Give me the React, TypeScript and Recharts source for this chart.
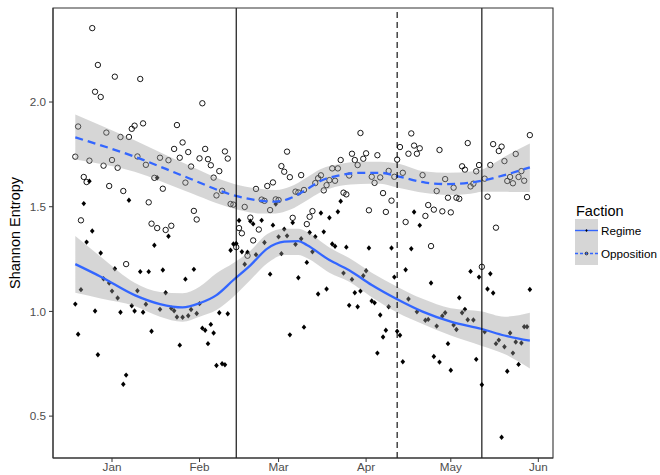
import React from 'react';
import { ComposedChart, Scatter, Line, Area, XAxis, YAxis, ReferenceLine, ReferenceArea } from 'recharts';

const FONT = '"Liberation Sans", Arial, Helvetica, sans-serif';

const monthTicks = [0, 31, 59, 90, 120, 151];
const monthLabels = ['Jan', 'Feb', 'Mar', 'Apr', 'May', 'Jun'];
const entropyTicks = [0.5, 1.0, 1.5, 2.0];
const solidEventDays = [44, 131];
const dashedEventDays = [101];

const oppositionDays = [
  -13, -12, -11, -10, -9, -8, -7, -6, -5, -4, -3, -2, -1, 0, 1, 2, 3, 4, 5, 6, 7, 8, 9, 10, 11, 12, 13, 14, 15, 16,
  17, 18, 19, 20, 21, 22, 23, 24, 25, 26, 27, 28, 29, 30, 31, 32, 33, 34, 35, 36, 37, 38, 39, 40, 41, 42, 43, 44,
  45, 46, 47, 48, 49, 50, 51, 52, 53, 54, 55, 56, 57, 58, 59, 60, 61, 62, 63, 64, 65, 66, 67, 68, 69, 70, 71, 72,
  73, 74, 75, 76, 77, 78, 79, 80, 81, 82, 83, 84, 85, 86, 87, 88, 89, 90, 91, 92, 93, 94, 95, 96, 97, 98, 99, 100,
  101, 102, 103, 104, 105, 106, 107, 108, 109, 110, 111, 112, 113, 114, 115, 116, 117, 118, 119, 120, 121, 122,
  123, 124, 125, 126, 127, 128, 129, 130, 131, 132, 133, 134, 135, 136, 137, 138, 139, 140, 141, 142, 143, 144,
  145, 146, 147, 148,
];
const oppositionEntropy = [
  1.739, 1.883, 1.435, 1.642, 1.618, 1.72, 2.353, 2.049, 2.177, 2.024, 1.696, 1.854, 1.599, 1.723, 2.121, 1.686,
  1.833, 1.575, 1.226, 1.833, 1.872, 1.887, 1.74, 2.11, 1.898, 1.7, 1.521, 1.419, 1.638, 1.398, 1.734, 1.586, 1.389,
  1.722, 1.409, 1.776, 1.89, 1.734, 1.807, 1.615, 1.761, 1.692, 1.48, 1.439, 1.731, 1.994, 1.776, 1.727, 1.698,
  1.639, 1.554, 1.67, 1.576, 1.764, 1.73, 1.513, 1.51, 1.307, 1.398, 1.373, 1.499, 1.266, 1.448, 1.339, 1.585,
  1.391, 1.534, 1.528, 1.599, 1.484, 1.616, 1.535, 1.532, 1.694, 1.667, 1.763, 1.641, 1.447, 1.572, 1.568, 1.651,
  1.58, 1.417, 1.452, 1.479, 1.613, 1.636, 1.65, 1.578, 1.603, 1.627, 1.683, 1.624, 1.683, 1.723, 1.567, 1.559,
  1.649, 1.753, 1.723, 1.699, 1.852, 1.729, 1.755, 1.483, 1.643, 1.614, 1.746, 1.64, 1.565, 1.475, 1.671, 1.529,
  1.643, 1.725, 1.785, 1.662, 1.427, 1.753, 1.85, 1.792, 1.753, 1.779, 1.651, 1.456, 1.508, 1.312, 1.486, 1.575,
  1.771, 1.478, 1.632, 1.543, 1.473, 1.591, 1.543, 1.538, 1.693, 1.677, 1.804, 1.597, 1.61, 1.669, 1.699, 1.213,
  1.634, 1.548, 1.699, 1.799, 1.4, 1.766, 1.787, 1.718, 1.623, 1.642, 1.612, 1.752, 1.642, 1.67, 1.624, 1.546, 1.842,
];

const regimeDays = [
  -13, -12, -11, -10, -9, -8, -7, -6, -5, -4, -3, -1, 0, 1, 2, 3, 4, 5, 6, 7, 8, 9, 10, 11, 12, 13, 14, 15, 16, 17,
  18, 19, 20, 21, 22, 23, 24, 25, 26, 27, 28, 29, 30, 31, 32, 33, 34, 35, 36, 37, 38, 39, 40, 41, 42, 43, 44, 45,
  46, 47, 48, 49, 50, 51, 53, 54, 56, 57, 58, 59, 60, 61, 62, 63, 64, 65, 66, 67, 68, 69, 70, 71, 72, 73, 74, 75,
  76, 77, 78, 79, 80, 81, 82, 83, 84, 85, 86, 87, 88, 89, 90, 91, 92, 93, 94, 95, 96, 97, 98, 99, 100, 101, 102,
  103, 104, 105, 106, 107, 108, 109, 111, 112, 113, 114, 115, 116, 117, 118, 119, 120, 121, 122, 123, 124, 125,
  126, 127, 128, 129, 130, 131, 132, 133, 134, 135, 136, 137, 138, 139, 140, 141, 142, 143, 144, 145, 146, 147, 148,
];
const regimeEntropy = [
  1.035, 0.891, 1.104, 1.515, 1.331, 1.622, 1.384, 1.002, 0.793, 1.279, 1.156, 1.136, 1.097, 1.204, 1.064, 0.996,
  0.652, 0.696, 1.531, 1.027, 1.002, 1.099, 1.19, 0.996, 1.034, 1.19, 0.905, 1.316, 1.638, 1.01, 1.198, 1.089, 1.359,
  1.015, 1.003, 0.973, 0.839, 0.972, 1.154, 0.979, 1.009, 1.201, 0.99, 1.037, 0.92, 0.91, 0.846, 0.938, 0.897, 0.742,
  0.994, 0.75, 0.745, 0.989, 1.292, 1.322, 1.324, 1.434, 1.285, 1.225, 1.283, 1.431, 1.418, 1.271, 1.435, 1.329,
  1.178, 1.412, 1.513, 1.356, 1.276, 1.393, 1.361, 0.888, 1.424, 1.321, 1.161, 1.347, 0.925, 1.234, 1.377, 1.285,
  1.357, 1.083, 1.47, 1.38, 1.107, 1.447, 1.322, 1.311, 1.476, 1.526, 1.183, 1.307, 1.029, 1.153, 1.089, 1.022,
  1.097, 1.17, 1.194, 1.303, 1.05, 1.041, 0.801, 0.983, 0.878, 0.91, 1.022, 1.303, 1.164, 0.905, 0.886, 0.76, 1.199,
  1.059, 1.299, 1.475, 0.998, 1.411, 0.958, 0.962, 1.136, 0.785, 0.93, 0.758, 0.978, 0.994, 0.846, 0.719, 0.935,
  0.914, 1.065, 0.994, 1.01, 0.96, 1.191, 0.959, 0.771, 1.164, 0.65, 0.903, 1.107, 1.18, 1.088, 0.846, 0.863, 0.399,
  0.831, 0.714, 0.897, 0.801, 0.854, 0.747, 0.849, 0.927, 0.927, 1.105,
];

// smoothed trend with its confidence band
const regimeFitDays = [-13, -4, 8, 17, 25, 31, 37, 43, 49, 55, 61, 66, 69, 77, 84, 92, 101, 110, 120, 131, 139, 148];
const regimeFit = [1.226, 1.166, 1.078, 1.035, 1.019, 1.039, 1.078, 1.15, 1.22, 1.3, 1.333, 1.336, 1.317, 1.245, 1.197, 1.126, 1.058, 0.999, 0.951, 0.916, 0.885, 0.86];
const regimeLower = [1.089, 1.062, 1.026, 0.975, 0.951, 0.975, 1.007, 1.07, 1.15, 1.23, 1.27, 1.269, 1.255, 1.185, 1.142, 1.068, 0.995, 0.94, 0.885, 0.835, 0.797, 0.728];
const regimeUpper = [1.36, 1.261, 1.137, 1.093, 1.087, 1.118, 1.182, 1.231, 1.29, 1.37, 1.395, 1.395, 1.38, 1.305, 1.255, 1.185, 1.118, 1.06, 1.015, 1.0, 0.975, 0.994];

const oppositionFitDays = [-13, 8, 26, 43, 53, 58, 63, 69, 74, 81, 88, 95, 101, 111, 119, 127, 131, 139, 148];
const oppositionFit = [1.831, 1.739, 1.643, 1.555, 1.528, 1.524, 1.54, 1.583, 1.624, 1.651, 1.662, 1.662, 1.646, 1.615, 1.608, 1.615, 1.624, 1.651, 1.688];
const oppositionLower = [1.726, 1.667, 1.575, 1.492, 1.468, 1.468, 1.485, 1.53, 1.57, 1.6, 1.608, 1.61, 1.592, 1.565, 1.556, 1.562, 1.572, 1.571, 1.57];
const oppositionUpper = [1.941, 1.818, 1.705, 1.61, 1.585, 1.58, 1.595, 1.64, 1.68, 1.705, 1.715, 1.715, 1.707, 1.668, 1.662, 1.668, 1.678, 1.739, 1.802];

const X_DOMAIN: [number, number] = [-20.9, 156.2];
const Y_DOMAIN: [number, number] = [0.3, 2.449];

const oppositionPoints = oppositionDays.map((d, i) => ({ x: d, y: oppositionEntropy[i] }));
const regimePoints = regimeDays.map((d, i) => ({ x: d, y: regimeEntropy[i] }));
const regimeSmooth = regimeFitDays.map((d, i) => ({ x: d, fit: regimeFit[i], band: [regimeLower[i], regimeUpper[i]] }));
const oppositionSmooth = oppositionFitDays.map((d, i) => ({
  x: d,
  fit: oppositionFit[i],
  band: [oppositionLower[i], oppositionUpper[i]],
}));

const Diamond = (props: any) => {
  const { cx, cy } = props;
  if (cx == null || cy == null) return null;
  return (
    <polygon
      points={`${cx},${cy - 2.7} ${cx + 2.3},${cy} ${cx},${cy + 2.7} ${cx - 2.3},${cy}`}
      fill="#000"
    />
  );
};

const OpenCircle = (props: any) => {
  const { cx, cy } = props;
  if (cx == null || cy == null) return null;
  return <circle cx={cx} cy={cy} r={2.7} fill="none" stroke="#000" strokeWidth={0.9} />;
};

const YTitle = (props: any) => {
  const vb = props.viewBox || { x: 0, y: 8, width: 53, height: 450 };
  const cx = 15;
  const cy = vb.y + vb.height / 2;
  return (
    <text
      x={cx}
      y={cy}
      transform={`rotate(-90 ${cx} ${cy})`}
      textAnchor="middle"
      dominantBaseline="central"
      fontSize={14.5}
      fontFamily={FONT}
      fill="#000"
    >
      Shannon Entropy
    </text>
  );
};

const LegendBox = () => (
  <svg width={660} height={475} style={{ position: 'absolute', left: 0, top: 0, pointerEvents: 'none' }}>
    <text x={576} y={216} fontSize={14.5} fontFamily={FONT} fill="#000">
      Faction
    </text>
    <rect x={575} y={219} width={23} height={23} fill="#999999" fillOpacity={0.4} />
    <rect x={575} y={242} width={23} height={23} fill="#999999" fillOpacity={0.4} />
    <line x1={575} x2={598} y1={230.5} y2={230.5} stroke="#3366FF" strokeWidth={1.4} />
    <polygon points="586.5,229 587.7,230.5 586.5,232 585.3,230.5" fill="#000" />
    <line x1={575} x2={598} y1={253.5} y2={253.5} stroke="#3366FF" strokeWidth={1.4} strokeDasharray="3 2" />
    <circle cx={586.5} cy={253.5} r={1.4} fill="none" stroke="#000" strokeWidth={0.7} />
    <text x={601} y={235} fontSize={11.7} fontFamily={FONT} fill="#000">
      Regime
    </text>
    <text x={601} y={258} fontSize={11.7} fontFamily={FONT} fill="#000">
      Opposition
    </text>
  </svg>
);

export default function App() {
  return (
    <div style={{ position: 'absolute', left: 0, top: 0, width: 660, height: 475, fontFamily: FONT, background: '#fff' }}>
      <ComposedChart width={660} height={475} margin={{ top: 8, right: 107, bottom: 0, left: 0 }}>
        <XAxis
          type="number"
          dataKey="x"
          domain={X_DOMAIN}
          allowDataOverflow
          ticks={monthTicks}
          interval={0}
          tickFormatter={(v: number) => monthLabels[monthTicks.indexOf(v)] ?? ''}
          height={17}
          tickSize={4}
          tickMargin={1}
          stroke="#333333"
          tick={{ fill: '#4d4d4d', fontSize: 11.7, fontFamily: FONT }}
        />
        <YAxis
          type="number"
          domain={Y_DOMAIN}
          allowDataOverflow
          ticks={entropyTicks}
          interval={0}
          tickFormatter={(v: number) => v.toFixed(1)}
          width={53}
          tickSize={4}
          tickMargin={3}
          stroke="#333333"
          tick={{ fill: '#4d4d4d', fontSize: 11.7, fontFamily: FONT }}
          label={<YTitle />}
        />
        <Scatter data={oppositionPoints} dataKey="y" shape={<OpenCircle />} isAnimationActive={false} />
        <Scatter data={regimePoints} dataKey="y" shape={<Diamond />} isAnimationActive={false} />
        <Area
          data={regimeSmooth}
          dataKey="band"
          type="monotone"
          stroke="none"
          fill="#999999"
          fillOpacity={0.4}
          isAnimationActive={false}
          activeDot={false}
          zIndex={650}
        />
        <Area
          data={oppositionSmooth}
          dataKey="band"
          type="monotone"
          stroke="none"
          fill="#999999"
          fillOpacity={0.4}
          isAnimationActive={false}
          activeDot={false}
          zIndex={650}
        />
        <Line
          data={regimeSmooth}
          dataKey="fit"
          type="monotone"
          stroke="#3366FF"
          strokeWidth={2.3}
          dot={false}
          activeDot={false}
          isAnimationActive={false}
          zIndex={700}
        />
        <Line
          data={oppositionSmooth}
          dataKey="fit"
          type="monotone"
          stroke="#3366FF"
          strokeWidth={2.3}
          strokeDasharray="8 5"
          dot={false}
          activeDot={false}
          isAnimationActive={false}
          zIndex={700}
        />
        {solidEventDays.map((d) => (
          <ReferenceLine key={`s${d}`} x={d} stroke="#000" strokeWidth={1.1} zIndex={750} />
        ))}
        {dashedEventDays.map((d) => (
          <ReferenceLine key={`d${d}`} x={d} stroke="#000" strokeWidth={1.1} strokeDasharray="6 4" zIndex={750} />
        ))}
        <ReferenceArea
          x1={X_DOMAIN[0]}
          x2={X_DOMAIN[1]}
          y1={Y_DOMAIN[0]}
          y2={Y_DOMAIN[1]}
          fill="none"
          fillOpacity={0}
          stroke="#333333"
          strokeWidth={1.1}
          ifOverflow="visible"
          zIndex={760}
        />
      </ComposedChart>
      <LegendBox />
    </div>
  );
}
